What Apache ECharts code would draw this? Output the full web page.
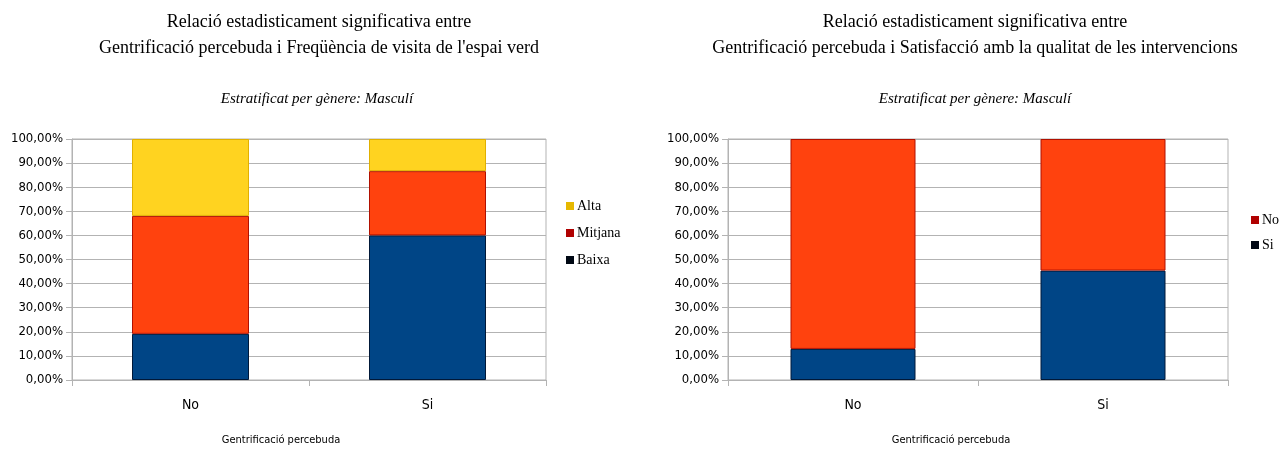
<!DOCTYPE html>
<html>
<head>
<meta charset="utf-8">
<script src="https://cdn.jsdelivr.net/npm/echarts@6/dist/echarts.min.js"></script>
<style>
html,body{margin:0;padding:0;background:#fff;}
#c{width:1285px;height:450px;}
</style>
</head>
<body>
<div id="c"></div>
<script>
var categories = ['No', 'Si'];
var yTicks = [0, 10, 20, 30, 40, 50, 60, 70, 80, 90, 100];
// Left chart: Freqüència de visita de l'espai verd
var baixa = [19.15, 60.0];
var mitjana = [48.94, 26.67];
var alta = [31.91, 13.33];
// Right chart: Satisfacció amb la qualitat de les intervencions
var satSi = [12.9, 45.4];
var satNo = [87.1, 54.6];

var titleLeft = "Relació estadisticament significativa entre\nGentrificació percebuda i Freqüència de visita de l'espai verd";
var titleRight = "Relació estadisticament significativa entre\nGentrificació percebuda i Satisfacció amb la qualitat de les intervencions";
var subTitle = "Estratificat per gènere: Masculí";
var axisName = "Gentrificació percebuda";

var serif = "'Liberation Serif', 'DejaVu Serif', serif";
var narrow = "'Liberation Sans Narrow', 'DejaVu Sans Condensed', 'Liberation Sans', sans-serif";

var C = {
  blue: '#004586', blueB: '#001838',
  red: '#ff420e', redB: '#b01000',
  yellow: '#ffd320', yellowB: '#e0b000'
};

var chart = echarts.init(document.getElementById('c'), null, {renderer: 'canvas'});

function fmt(v) { return v.toFixed(2).replace('.', ',') + '%'; }

function yAxis(gi) {
  return {
    type: 'value', gridIndex: gi, min: 0, max: 100, interval: 10,
    axisLine: {show: true, lineStyle: {color: '#b3b3b3', width: 1}},
    axisTick: {show: true, length: 6, lineStyle: {color: '#b3b3b3'}},
    splitLine: {show: true, lineStyle: {color: '#b3b3b3', width: 1}},
    axisLabel: {formatter: function (v) { return fmt(v); }, color: '#000', fontFamily: narrow, fontSize: 13, margin: 9}
  };
}
function xAxis(gi) {
  return {
    type: 'category', gridIndex: gi, data: categories,
    axisLine: {show: true, lineStyle: {color: '#b3b3b3'}},
    axisTick: {show: true, alignWithLabel: false, length: 6, lineStyle: {color: '#b3b3b3'}},
    axisLabel: {color: '#000', fontFamily: narrow, fontSize: 14, margin: 18}
  };
}
function bar(name, data, color, border, xi, stack, bw) {
  return {
    name: name, type: 'bar', stack: stack, xAxisIndex: xi, yAxisIndex: xi,
    data: data, barWidth: bw,
    itemStyle: {color: color, borderColor: border, borderWidth: 1},
    emphasis: {disabled: true}
  };
}

chart.setOption({
  animation: false,
  backgroundColor: '#fff',
  title: [
    {text: titleLeft, left: 314, top: 4, textAlign: 'center',
     textStyle: {fontFamily: serif, fontSize: 18, fontWeight: 'normal', color: '#000', lineHeight: 26}},
    {text: titleRight, left: 970, top: 4, textAlign: 'center',
     textStyle: {fontFamily: serif, fontSize: 18, fontWeight: 'normal', color: '#000', lineHeight: 26}},
    {text: subTitle, left: 312, top: 87, textAlign: 'center',
     textStyle: {fontFamily: serif, fontSize: 15, fontStyle: 'italic', fontWeight: 'normal', color: '#000'}},
    {text: subTitle, left: 970, top: 87, textAlign: 'center',
     textStyle: {fontFamily: serif, fontSize: 15, fontStyle: 'italic', fontWeight: 'normal', color: '#000'}},
    {text: axisName, left: 276, top: 430, textAlign: 'center',
     textStyle: {fontFamily: narrow, fontSize: 11, fontWeight: 'normal', color: '#000'}},
    {text: axisName, left: 946, top: 430, textAlign: 'center',
     textStyle: {fontFamily: narrow, fontSize: 11, fontWeight: 'normal', color: '#000'}}
  ],
  legend: [
    {orient: 'vertical', left: 561, top: 194, itemWidth: 8, itemHeight: 8, itemGap: 13,
     icon: 'rect', selectedMode: false,
     textStyle: {fontFamily: serif, fontSize: 14, color: '#000', padding: [0, 0, 0, -2]},
     data: [
       {name: 'Alta', itemStyle: {color: '#e6b800', borderWidth: 0}},
       {name: 'Mitjana', itemStyle: {color: '#b00000', borderWidth: 0}},
       {name: 'Baixa', itemStyle: {color: '#000814', borderWidth: 0}}
     ]},
    {orient: 'vertical', left: 1246, top: 208, itemWidth: 8, itemHeight: 8, itemGap: 11,
     icon: 'rect', selectedMode: false,
     textStyle: {fontFamily: serif, fontSize: 14, color: '#000', padding: [0, 0, 0, -2]},
     data: [
       {name: 'No', itemStyle: {color: '#b00000', borderWidth: 0}},
       {name: 'Si', itemStyle: {color: '#000814', borderWidth: 0}}
     ]}
  ],
  grid: [
    {left: 72, top: 139, width: 474, height: 241, show: true, borderColor: '#b3b3b3', borderWidth: 1, backgroundColor: 'transparent', containLabel: false},
    {left: 728, top: 139, width: 500, height: 241, show: true, borderColor: '#b3b3b3', borderWidth: 1, backgroundColor: 'transparent', containLabel: false}
  ],
  xAxis: [xAxis(0), xAxis(1)],
  yAxis: [yAxis(0), yAxis(1)],
  series: [
    bar('Baixa', baixa, C.blue, C.blueB, 0, 'a', 117),
    bar('Mitjana', mitjana, C.red, C.redB, 0, 'a', 117),
    bar('Alta', alta, C.yellow, C.yellowB, 0, 'a', 117),
    bar('Si', satSi, C.blue, C.blueB, 1, 'b', 125),
    bar('No', satNo, C.red, C.redB, 1, 'b', 125)
  ]
});
</script>
</body>
</html>
